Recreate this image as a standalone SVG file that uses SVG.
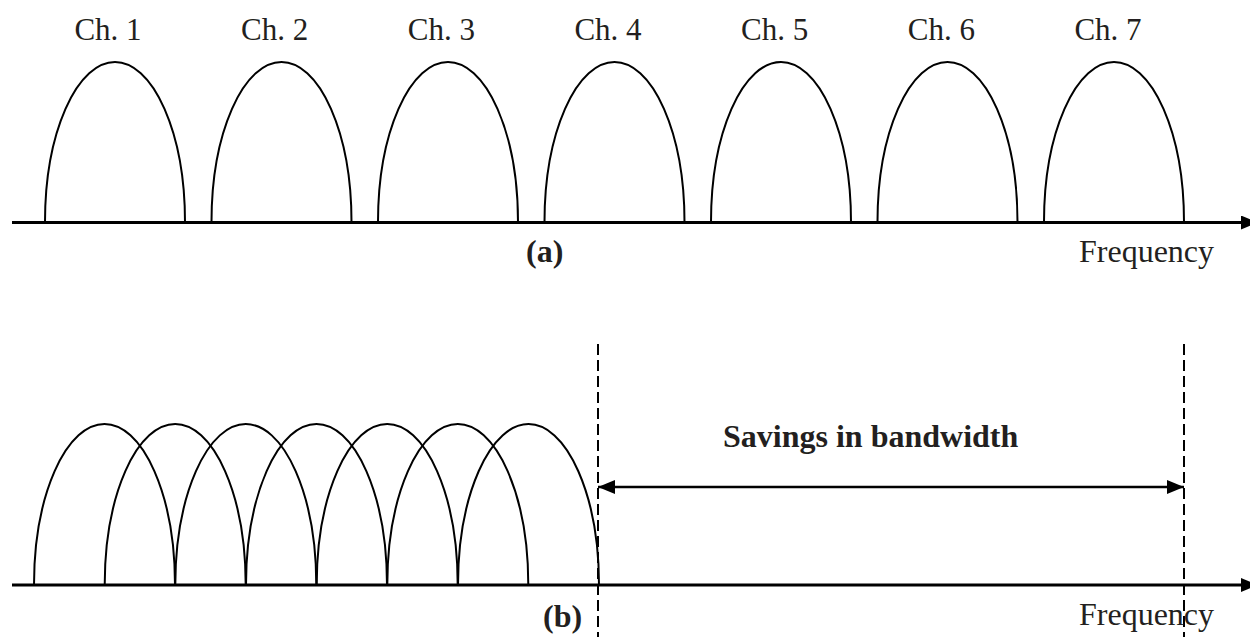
<svg xmlns="http://www.w3.org/2000/svg" width="1250" height="637" viewBox="0 0 1250 637">
<style>
  .lbl{font-family:"Liberation Serif","Times New Roman",serif;font-size:31px;fill:#231f20}
  .big{font-size:32px}
  .b{font-weight:bold}
  .arch{fill:none;stroke:#000;stroke-width:2}
  .axis{fill:none;stroke:#000;stroke-width:3}
  .dash{fill:none;stroke:#000;stroke-width:2;stroke-dasharray:11 5}
  .arr{fill:none;stroke:#000;stroke-width:2.5}
</style>
<defs>
  <marker id="ah" viewBox="0 0 17 14" refX="17" refY="7" markerWidth="17" markerHeight="14" markerUnits="userSpaceOnUse" orient="auto-start-reverse">
    <path d="M0,0 L17,7 L0,14 Z" fill="#000"/>
  </marker>
</defs>

<g id="top-labels">
  <text class="lbl" x="108" y="40" text-anchor="middle">Ch. 1</text>
  <text class="lbl" x="274.7" y="40" text-anchor="middle">Ch. 2</text>
  <text class="lbl" x="441.3" y="40" text-anchor="middle">Ch. 3</text>
  <text class="lbl" x="608" y="40" text-anchor="middle">Ch. 4</text>
  <text class="lbl" x="774.7" y="40" text-anchor="middle">Ch. 5</text>
  <text class="lbl" x="941.3" y="40" text-anchor="middle">Ch. 6</text>
  <text class="lbl" x="1108" y="40" text-anchor="middle">Ch. 7</text>
</g>

<g id="top-channels">
  <path class="arch" d="M45,222 A70 160 0 0 1 185,222"/>
  <path class="arch" d="M211.5,222 A70 160 0 0 1 351.5,222"/>
  <path class="arch" d="M378,222 A70 160 0 0 1 518,222"/>
  <path class="arch" d="M544.5,222 A70 160 0 0 1 684.5,222"/>
  <path class="arch" d="M711,222 A70 160 0 0 1 851,222"/>
  <path class="arch" d="M877.5,222 A70 160 0 0 1 1017.5,222"/>
  <path class="arch" d="M1044,222 A70 160 0 0 1 1184,222"/>
</g>

<g id="bottom-channels">
  <path class="arch" d="M34,585 A70.5 161 0 0 1 175,585"/>
  <path class="arch" d="M104.7,585 A70.5 161 0 0 1 245.7,585"/>
  <path class="arch" d="M175.3,585 A70.5 161 0 0 1 316.3,585"/>
  <path class="arch" d="M246,585 A70.5 161 0 0 1 387,585"/>
  <path class="arch" d="M316.7,585 A70.5 161 0 0 1 457.7,585"/>
  <path class="arch" d="M387.3,585 A70.5 161 0 0 1 528.3,585"/>
  <path class="arch" d="M458,585 A70.5 161 0 0 1 599,585"/>
</g>

<g id="connectors">
  <line class="axis" x1="12" y1="222.5" x2="1258" y2="222.5" marker-end="url(#ah)"/>
  <line class="axis" x1="12" y1="585" x2="1258" y2="585" marker-end="url(#ah)"/>
  <line class="dash" x1="598" y1="344" x2="598" y2="637"/>
  <line class="dash" x1="1184" y1="344" x2="1184" y2="637"/>
  <line class="arr" x1="598" y1="487" x2="1184" y2="487" marker-start="url(#ah)" marker-end="url(#ah)"/>
</g>

<g id="captions">
  <text class="lbl big b" x="526" y="262">(a)</text>
  <text class="lbl big" x="1079" y="262">Frequency</text>
  <text class="lbl big b" x="723" y="447">Savings in bandwidth</text>
  <text class="lbl big b" x="543" y="627">(b)</text>
  <text class="lbl big" x="1079" y="625">Frequency</text>
</g>
</svg>
